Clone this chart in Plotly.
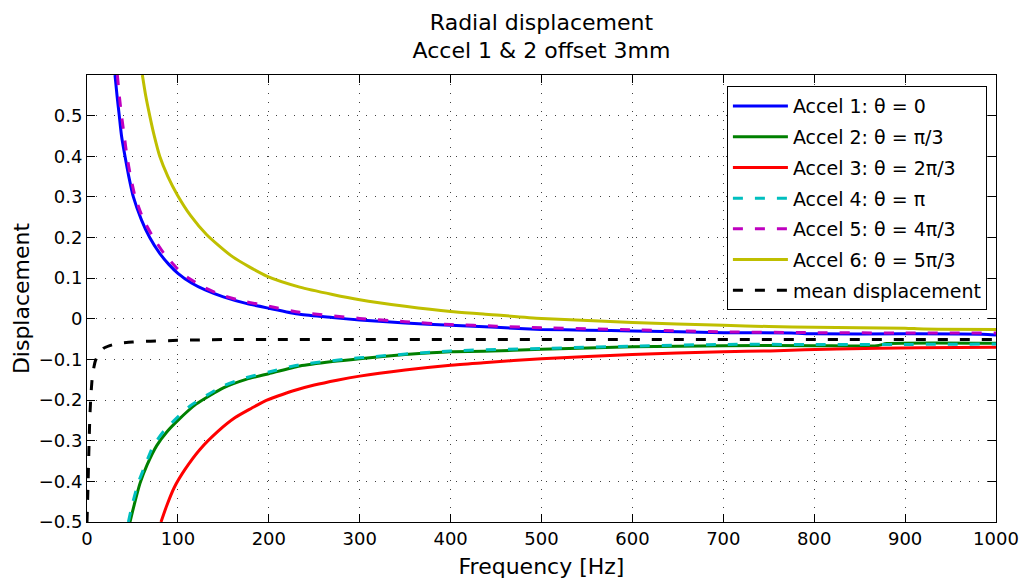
import plotly.graph_objects as go

# ---------------- data ----------------
freq_a1 = [30.8, 33, 35.5, 38, 41.8, 46, 51, 60, 69, 80, 90, 100, 115, 130, 150, 175, 200,
           234, 270, 300, 350, 400, 450, 500, 550, 600, 700, 775, 800, 900, 985, 1000]
disp_a1 = [0.6, 0.55, 0.5, 0.45, 0.4, 0.35, 0.3, 0.243, 0.2, 0.161, 0.134, 0.112, 0.088, 0.071, 0.054,
           0.038, 0.026, 0.011, 0.003, -0.003, -0.010, -0.016, -0.021, -0.026, -0.028, -0.030,
           -0.034, -0.035, -0.037, -0.037, -0.038, -0.040]

freq_a2 = [47.3, 52, 58.3, 66, 76.7, 88, 100, 120, 150, 175, 200, 234, 270, 300, 350, 400,
           436, 500, 600, 700, 800, 869, 880, 1000]
disp_a2 = [-0.5, -0.457, -0.405, -0.36, -0.312, -0.278, -0.25, -0.21, -0.17, -0.149, -0.135,
           -0.116, -0.105, -0.098, -0.088, -0.081, -0.080, -0.075, -0.069, -0.066, -0.066,
           -0.066, -0.061, -0.060]

freq_a3 = [81.4, 88, 96, 108, 124, 144, 163, 181, 195, 210, 227, 250, 275, 300, 350, 400, 436,
           500, 600, 700, 752, 825, 916, 1000]
disp_a3 = [-0.5, -0.458, -0.415, -0.37, -0.322, -0.277, -0.243, -0.22, -0.203, -0.19, -0.177,
           -0.163, -0.151, -0.141, -0.126, -0.114, -0.108, -0.098, -0.088, -0.081, -0.079,
           -0.074, -0.071, -0.070]

freq_a4 = [45.5, 50, 56.5, 64, 73, 85, 96, 113, 150, 175, 200, 234, 300, 400, 500, 600, 700,
           800, 900, 1000]
disp_a4 = [-0.5, -0.455, -0.403, -0.36, -0.312, -0.275, -0.25, -0.215, -0.165, -0.145, -0.131,
           -0.113, -0.096, -0.079, -0.073, -0.067, -0.063, -0.063, -0.063, -0.062]

freq_a5 = [33.4, 35.5, 38, 41, 44, 48, 53, 62, 73, 85, 100, 110, 130, 150, 175, 200, 234, 300,
           350, 400, 450, 500, 600, 700, 800, 900, 1000]
disp_a5 = [0.6, 0.55, 0.5, 0.45, 0.4, 0.35, 0.3, 0.245, 0.2, 0.16, 0.122, 0.103, 0.076, 0.057,
           0.042, 0.031, 0.016, 0.001, -0.007, -0.014, -0.018, -0.022, -0.027, -0.032, -0.034,
           -0.035, -0.035]

freq_a6 = [60.9, 64.5, 69, 74, 80, 89, 99.4, 114, 131.7, 160, 197.7, 234, 270, 300, 350, 400,
           436, 500, 600, 700, 750, 800, 900, 920, 1000]
disp_a6 = [0.6, 0.55, 0.5, 0.45, 0.4, 0.35, 0.305, 0.254, 0.207, 0.153, 0.105, 0.078, 0.06,
           0.047, 0.031, 0.018, 0.012, 0.001, -0.009, -0.016, -0.019, -0.021, -0.023, -0.025,
           -0.026]

freq_mean = [0, 1, 2, 3, 4, 6, 9, 12, 18, 25, 33, 50, 70, 100, 120, 150, 200, 1000]
disp_mean = [-0.5, -0.42, -0.33, -0.25, -0.2, -0.14, -0.105, -0.09, -0.073, -0.066, -0.061,
             -0.057, -0.055, -0.053, -0.052, -0.051, -0.051, -0.051]

names = ["Accel 1: θ = 0", "Accel 2: θ = π/3", "Accel 3: θ = 2π/3", "Accel 4: θ = π",
         "Accel 5: θ = 4π/3", "Accel 6: θ = 5π/3", "mean displacement"]

x_ticks = [0, 100, 200, 300, 400, 500, 600, 700, 800, 900, 1000]
y_ticks = [-0.5, -0.4, -0.3, -0.2, -0.1, 0, 0.1, 0.2, 0.3, 0.4, 0.5]
y_ticktext = ["−0.5", "−0.4", "−0.3", "−0.2", "−0.1", "0", "0.1", "0.2", "0.3", "0.4", "0.5"]

# ---------------- styling ----------------
FONT = "DejaVu Sans"
DASH = "10px,12px"
series = [
    (freq_a1, disp_a1, "#0000ff", "solid"),
    (freq_a2, disp_a2, "#008000", "solid"),
    (freq_a3, disp_a3, "#ff0000", "solid"),
    (freq_a4, disp_a4, "#00bfbf", DASH),
    (freq_a5, disp_a5, "#bf00bf", DASH),
    (freq_a6, disp_a6, "#bfbf00", "solid"),
    (freq_mean, disp_mean, "#000000", DASH),
]

fig = go.Figure()
for i, ((fx, fy, col, dash), name) in enumerate(zip(series, names)):
    fig.add_trace(go.Scatter(
        x=fx, y=fy, mode="lines", name=name, legendgroup=f"g{i}",
        line=dict(color=col, width=3, dash=dash, shape="spline", smoothing=0.6),
    ))

axis_common = dict(
    showline=True, linecolor="black", linewidth=1, mirror="ticks",
    ticks="inside", ticklen=8, tickcolor="black", tickwidth=1,
    showgrid=True, gridcolor="rgba(0,0,0,0.75)", gridwidth=1, griddash="1px,8px",
    zeroline=False, automargin=False,
    tickfont=dict(family=FONT, size=18, color="black"),
)

fig.update_layout(
    width=1022, height=582,
    margin=dict(l=87, r=26, t=75, b=60, autoexpand=False),
    paper_bgcolor="white", plot_bgcolor="white",
    font=dict(family=FONT, color="black"),
    title=dict(text="Radial displacement<br>Accel 1 & 2 offset 3mm",
               x=0.5298, xanchor="center", y=0.949, yanchor="top",
               font=dict(family=FONT, size=22, color="black")),
    xaxis=dict(range=[0, 1000], tickvals=x_ticks,
               ticktext=[str(v) for v in x_ticks],
               title=dict(text="Frequency [Hz]", font=dict(family=FONT, size=22), standoff=11),
               **axis_common),
    yaxis=dict(range=[-0.5, 0.6], tickvals=y_ticks, ticktext=y_ticktext,
               title=dict(text="Displacement", font=dict(family=FONT, size=22), standoff=2),
               **axis_common),
    legend=dict(x=0.990, xanchor="right", y=0.975, yanchor="top",
                bgcolor="white", bordercolor="black", borderwidth=1,
                font=dict(family=FONT, size=19, color="black"),
                tracegroupgap=3, itemwidth=55),
    showlegend=True,
)

fig.write_html("out.html")
